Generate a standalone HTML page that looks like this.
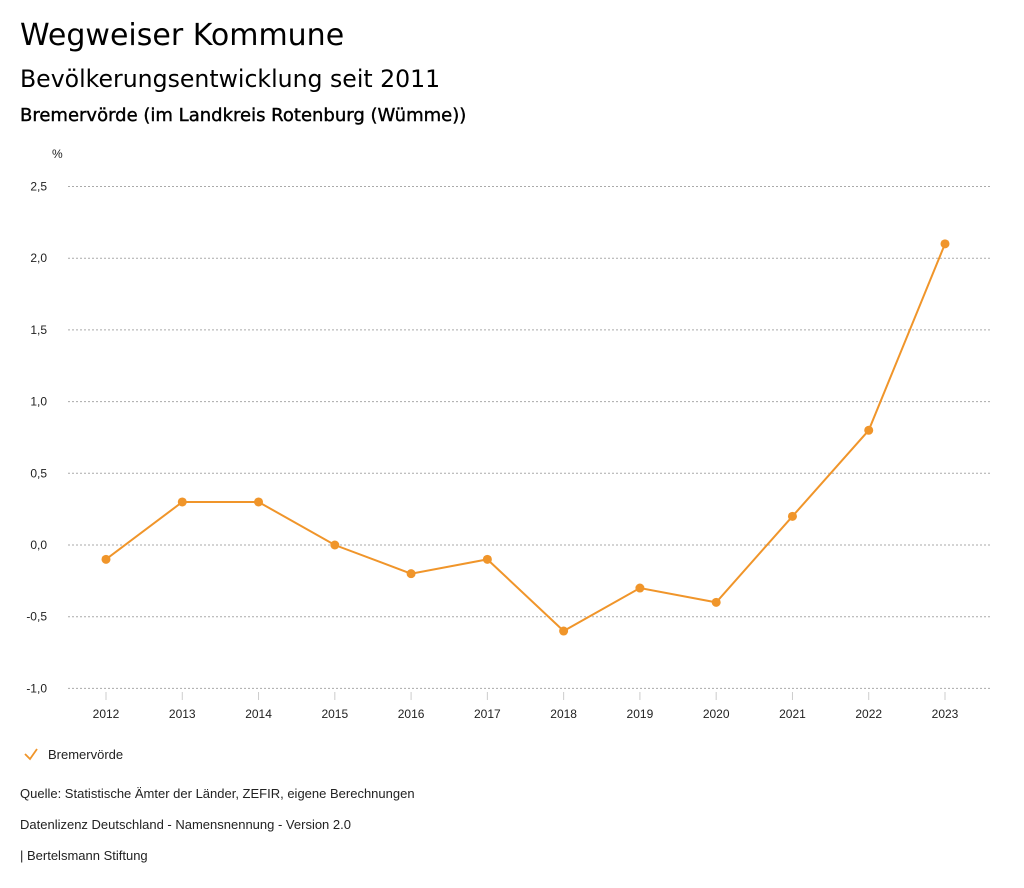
<!DOCTYPE html>
<html><head><meta charset="utf-8">
<style>
body{margin:0;background:#fff;width:1024px;height:888px;overflow:hidden;position:relative;font-family:"Liberation Sans",sans-serif;color:#222}
.t{position:absolute;left:20px;white-space:nowrap;font-family:"DejaVu Sans",sans-serif;color:#000}
.s{position:absolute;left:20px;font-size:13px;white-space:nowrap;color:#222}
</style></head><body>
<div class="t" style="top:18px;font-size:30px">Wegweiser Kommune</div>
<div class="t" style="top:65px;font-size:23.6px">Bevölkerungsentwicklung seit 2011</div>
<div class="t" style="top:105px;font-size:18px;-webkit-text-stroke:0.4px #000">Bremervörde (im Landkreis Rotenburg (Wümme))</div>
<svg id="chart" width="1024" height="888" style="position:absolute;left:0;top:0"></svg>
<div class="s" style="top:786px">Quelle: Statistische Ämter der Länder, ZEFIR, eigene Berechnungen</div>
<div class="s" style="top:817px">Datenlizenz Deutschland - Namensnennung - Version 2.0</div>
<div class="s" style="top:848px">| Bertelsmann Stiftung</div>
<script>
const years=["2012","2013","2014","2015","2016","2017","2018","2019","2020","2021","2022","2023"];
const values=[-0.1,0.3,0.3,0.0,-0.2,-0.1,-0.6,-0.3,-0.4,0.2,0.8,2.1];
const yTicks=[-1.0,-0.5,0.0,0.5,1.0,1.5,2.0,2.5];
const yTickLabels=["-1,0","-0,5","0,0","0,5","1,0","1,5","2,0","2,5"];
const seriesName="Bremervörde";
const NS="http://www.w3.org/2000/svg";
const svg=document.getElementById('chart');
const C="#f0952a";
function y(v){return 545-(v)*143.4;}
function x(i){return 106+i*(945-106)/(years.length-1);}
function mk(t,a){const e=document.createElementNS(NS,t);for(const k in a)e.setAttribute(k,a[k]);svg.appendChild(e);return e;}
const u=mk('text',{x:52,y:158,'font-size':12,fill:'#222'});u.textContent='%';


yTicks.forEach((v,i)=>{
 const l=mk('line',{x1:68,x2:990,y1:y(v),y2:y(v),stroke:'#aaa','stroke-dasharray':'2,2','stroke-width':1});
 
 
 const t=mk('text',{x:47,y:y(v)+4,'font-size':12,fill:'#222','text-anchor':'end'});t.textContent=yTickLabels[i];
 
 
});
years.forEach((yr,i)=>{
 const l=mk('line',{x1:x(i),x2:x(i),y1:692,y2:700,stroke:'#ccc'});
 
 
 const t=mk('text',{x:x(i),y:718,'font-size':12,fill:'#222','text-anchor':'middle'});t.textContent=yr;
 
 
});
const p=mk('polyline',{points:values.map((v,i)=>x(i)+','+y(v)).join(' '),fill:'none',stroke:C,'stroke-width':2});


values.forEach((v,i)=>{
 const c=mk('circle',{cx:x(i),cy:y(v),r:4.5,fill:C});
 
 
});
const g=mk('polyline',{points:'25,754 30,759 37,749',fill:'none',stroke:C,'stroke-width':1.8});


const lt=mk('text',{x:48,y:759,'font-size':13,fill:'#222'});lt.textContent=seriesName;


</script>
</body></html>
